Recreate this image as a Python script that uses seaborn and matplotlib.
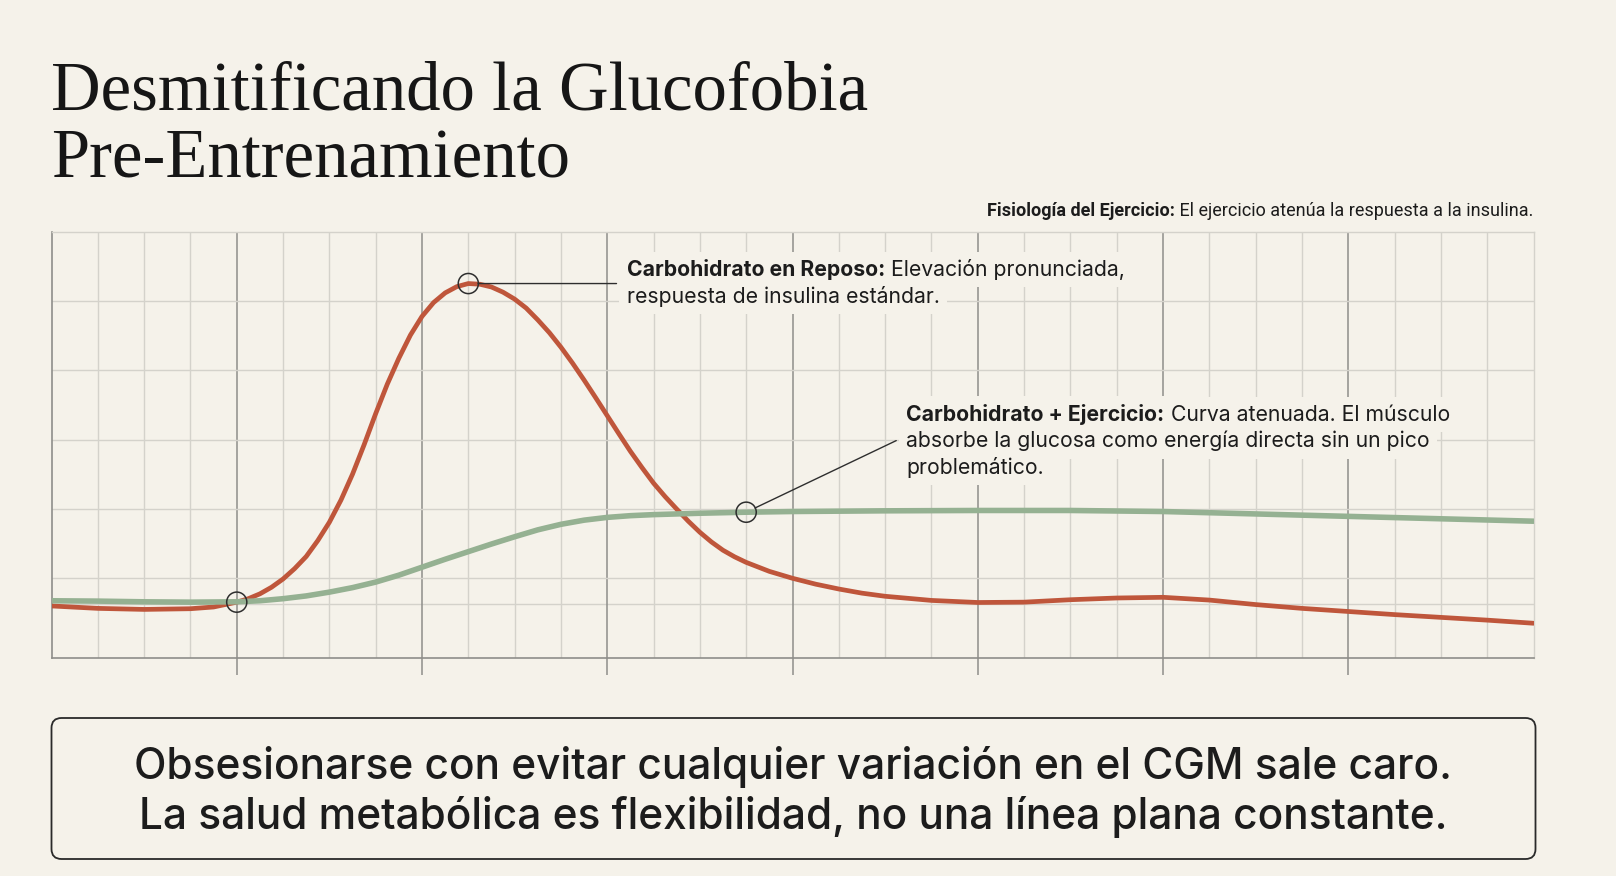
import numpy as np
import pandas as pd
import seaborn as sns
import matplotlib.pyplot as plt
from matplotlib.patches import FancyBboxPatch

# Data (time in minutes, glucose in arbitrary mg/dL-like units)
rest_time = [0, 5, 10, 15, 17.5, 20, 21.25, 22.5, 23.75, 25, 26.25, 27.5, 28.75, 30,
             31.25, 32.5, 33.75, 35, 36.25, 37.5, 38.75, 40, 41.25, 42.5, 43.75, 45,
             46.25, 47.5, 48.75, 50, 51.25, 52.5, 53.75, 55, 56.25, 57.5, 58.75, 60,
             61.25, 62.5, 63.75, 65, 66.25, 67.5, 68.75, 70, 71.25, 72.5, 73.75, 75,
             77.5, 80, 82.5, 85, 87.5, 90, 95, 100, 105, 110, 115, 120, 125, 130, 135,
             140, 145, 150, 155, 160]
rest_glucose = [91.9, 91.2, 90.9, 91.1, 91.6, 93.0, 94.0, 95.4, 97.3, 99.7, 102.7, 106.2,
                110.8, 116.1, 122.5, 130.0, 138.5, 147.5, 156.0, 163.5, 170.2, 175.6,
                179.6, 182.4, 184.2, 185.1, 184.9, 184.1, 182.6, 180.6, 178.0, 174.6,
                170.9, 166.7, 162.1, 157.2, 152.1, 146.9, 141.7, 136.6, 131.9, 127.4,
                123.5, 119.9, 116.4, 113.2, 110.4, 108.0, 106.1, 104.5, 101.9, 99.9, 98.2,
                96.8, 95.6, 94.7, 93.5, 92.9, 93.0, 93.7, 94.2, 94.4, 93.6, 92.3, 91.2,
                90.3, 89.4, 88.6, 87.8, 86.9]

exercise_time = [0, 5, 10, 15, 20, 22.5, 25, 27.5, 30, 32.5, 35, 37.5, 40, 42.5, 45,
                 47.5, 50, 52.5, 55, 57.5, 60, 62.5, 65, 70, 75, 80, 90, 100, 110, 120,
                 130, 140, 150, 160]
exercise_glucose = [93.4, 93.3, 93.1, 93.0, 93.1, 93.4, 94.0, 94.8, 95.9, 97.2, 98.8,
                    100.8, 103.1, 105.4, 107.6, 109.8, 111.9, 113.9, 115.5, 116.7, 117.5,
                    118.0, 118.3, 118.7, 119.0, 119.2, 119.4, 119.5, 119.5, 119.2, 118.5,
                    117.8, 117.1, 116.4]

meal_time = 20
exercise_mark_time = 75
baseline = 92.5
grid_y = [100, 120, 140, 160, 180]

title_lines = ["Desmitificando la Glucofobia", "Pre-Entrenamiento"]
subtitle_bold = "Fisiología del Ejercicio:"
subtitle_text = " El ejercicio atenúa la respuesta a la insulina."
rest_bold = "Carbohidrato en Reposo:"
rest_text = [" Elevación pronunciada,", "respuesta de insulina estándar."]
ex_bold = "Carbohidrato + Ejercicio:"
ex_text = [" Curva atenuada. El músculo", "absorbe la glucosa como energía directa sin un pico",
           "problemático."]
message = ["Obsesionarse con evitar cualquier variación en el CGM sale caro.",
           "La salud metabólica es flexibilidad, no una línea plana constante."]

BG = "#F5F2EA"
INK = "#1C1C1C"
RED = "#BF563B"
GREEN = "#95B192"
LIGHT = "#D4D2CB"
DARK = "#8E8E8A"

sns.set_theme(style="white")
plt.rcParams["font.family"] = ["Inter", "DejaVu Sans"]

W, H = 1616, 876
fig = plt.figure(figsize=(W / 100, H / 100), dpi=100, facecolor=BG)
ax = fig.add_axes([51.5 / W, 1 - 657.5 / H, 1482 / W, 425.5 / H])
ax.set_facecolor(BG)

rest = pd.DataFrame({"t": rest_time, "g": rest_glucose})
exer = pd.DataFrame({"t": exercise_time, "g": exercise_glucose})

sns.lineplot(data=rest, x="t", y="g", color=RED, linewidth=3.4, ax=ax, zorder=3)
sns.lineplot(data=exer, x="t", y="g", color=GREEN, linewidth=4.0, ax=ax, zorder=3)

# key points
peak = rest.loc[rest["g"].idxmax()]
start = rest[rest["t"] == meal_time].iloc[0]
ex_pt = exer[exer["t"] == exercise_mark_time].iloc[0]
marks = pd.DataFrame({"t": [start["t"], peak["t"], ex_pt["t"]],
                      "g": [start["g"], peak["g"], ex_pt["g"]]})
ax.scatter(marks["t"], marks["g"], s=14.5 ** 2, facecolors="none", edgecolors="#2E2E2E",
           linewidths=1.1, zorder=5)

# grid
ax.set_xlim(0, 160)
ax.set_ylim(77, 200)
ax.set_xticks(np.arange(20, 141, 20))
ax.set_xticks([m for m in range(5, 160, 5) if m % 20 != 0], minor=True)
ax.set_yticks(grid_y)
ax.grid(which="minor", axis="x", color=LIGHT, linewidth=1.0)
ax.grid(which="major", axis="x", color=DARK, linewidth=1.1)
ax.grid(which="major", axis="y", color=LIGHT, linewidth=1.0)
ax.axhline(baseline, color=LIGHT, linewidth=1.0, zorder=0.5)
ax.set_axisbelow(True)
ax.tick_params(axis="x", which="major", direction="out", length=12.5, width=1.1,
               color=DARK, labelbottom=False, bottom=True)
ax.tick_params(axis="x", which="minor", length=0)
ax.tick_params(axis="y", length=0, labelleft=False)
ax.set_xlabel("")
ax.set_ylabel("")
for side in ["left", "bottom"]:
    ax.spines[side].set_color(DARK)
    ax.spines[side].set_linewidth(1.2)
for side in ["top", "right"]:
    ax.spines[side].set_color(LIGHT)
    ax.spines[side].set_linewidth(1.0)

# annotations: a cream backing pass first, then the visible text on top
ANN_SIZE = 15.25
LINE_GAP = 19.2


def rich_block(x, y, bold, lines, backing):
    style = dict(fontsize=ANN_SIZE, color=BG if backing else INK,
                 zorder=5.5 if backing else 6)
    if backing:
        style["bbox"] = dict(boxstyle="square,pad=0.35", fc=BG, ec="none")
    head = ax.annotate(bold, xy=(x, y), xycoords="data", fontweight="bold",
                       ha="left", va="baseline", annotation_clip=False, **style)
    ax.annotate(lines[0], xy=(1, 0), xycoords=head, ha="left", va="bottom", **style)
    for i, line in enumerate(lines[1:]):
        ax.annotate(line, xy=(0, 0), xycoords=head, xytext=(0, -LINE_GAP * (i + 1)),
                    textcoords="offset points", ha="left", va="bottom", **style)


ax.annotate("", xy=(peak["t"], peak["g"]), xytext=(61, peak["g"]),
            arrowprops=dict(arrowstyle="-", color="#2E2E2E", lw=1.0, shrinkA=0, shrinkB=7))
ax.annotate("", xy=(ex_pt["t"], ex_pt["g"]), xytext=(91.2, 139.7),
            arrowprops=dict(arrowstyle="-", color="#2E2E2E", lw=1.0, shrinkA=0, shrinkB=7))
for backing in (True, False):
    rich_block(62.1, 187.3, rest_bold, rest_text, backing)
    rich_block(92.3, 145.5, ex_bold, ex_text, backing)

# title and subtitle
for i, line in enumerate(title_lines):
    fig.text(51 / W, 1 - (110 + 68 * i) / H, line, fontsize=49.5, color="#161616",
             family=["Liberation Serif", "DejaVu Serif"], ha="left", va="baseline")

sub_font = ["Roboto", "DejaVu Sans"]
sub = ax.annotate(subtitle_text, xy=(1533 / W, 1 - 215.5 / H), xycoords="figure fraction",
                  fontsize=13, family=sub_font, color=INK, ha="right", va="baseline")
ax.annotate(subtitle_bold, xy=(0, 0), xycoords=sub, fontsize=13, family=sub_font,
            fontweight="bold", color=INK, ha="right", va="bottom")

# message box
box = FancyBboxPatch((0.515, (H - 859) / 100), 14.84, 1.41,
                     boxstyle="round,pad=0,rounding_size=0.1",
                     transform=fig.dpi_scale_trans, fc=BG, ec="#2A2A2A", lw=1.3)
fig.add_artist(box)
for i, line in enumerate(message):
    fig.text(793.5 / W, 1 - (779 + 50 * i) / H, line, fontsize=30.5, fontweight=500,
             color=INK, ha="center", va="baseline")

fig.savefig("out.png", dpi=100, facecolor=BG)
plt.close(fig)
